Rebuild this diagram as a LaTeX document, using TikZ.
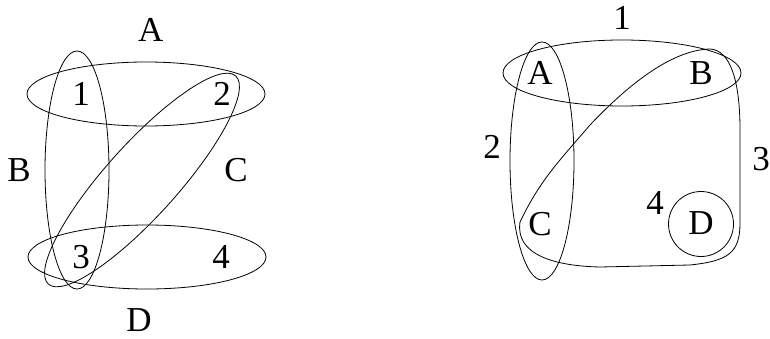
\documentclass[tikz,border=0pt]{standalone}
\usepackage{fontspec}
\setmainfont{Liberation Serif}

\begin{document}
\begin{tikzpicture}[x=1pt, y=1pt, line join=round, line cap=round,
  hyper/.style={line width=0.8pt},
  lbl/.style={inner sep=0pt, font=\fontsize{35}{42}\selectfont}]
  \useasboundingbox (0,0) rectangle (770,338);

  % 左图: 超边
  \coordinate (cA) at (146,244);
  \coordinate (cB) at (77,168);
  \coordinate (cC) at (142,158);
  \coordinate (cD) at (147,81);
  \draw[hyper] (cA) ellipse [x radius=119, y radius=32];
  \draw[hyper] (cB) ellipse [x radius=32, y radius=119];
  \draw[hyper, rotate around={48:(cC)}] (cC) ellipse [x radius=140, y radius=36];
  \draw[hyper] (cD) ellipse [x radius=119, y radius=32];

  % 左图: 顶点与超边名
  \node[lbl] (l1) at (81,244) {1};
  \node[lbl] (l2) at (222,244) {2};
  \node[lbl] (l3) at (81,81) {3};
  \node[lbl] (l4) at (221,81) {4};
  \node[lbl] (lA) at (150.7,308) {A};
  \node[lbl] (lB) at (19,168) {B};
  \node[lbl] (lC) at (236,167.5) {C};
  \node[lbl] (lD) at (139,17.5) {D};

  % 右图: 超边
  \coordinate (c1) at (622,265);
  \coordinate (c2) at (542,177);
  \coordinate (c4) at (701,114);
  \draw[hyper] (c1) ellipse [x radius=119, y radius=33];
  \draw[hyper] (c2) ellipse [x radius=32, y radius=119];
  \draw[hyper] (c4) circle (32.5);
  \draw[hyper] (520,116) .. controls (540,158) and (560,178) .. (590,213)
    .. controls (625,250) and (670,288) .. (710,289)
    .. controls (730,288) and (740,258) .. (740,208)
    -- (740,115) .. controls (740,85) and (728,77) .. (690,73)
    -- (600,71) .. controls (555,72) and (515,83) .. cycle;

  % 右图: 顶点与超边名
  \node[lbl] (rA) at (540,265) {A};
  \node[lbl] (rB) at (701,265) {B};
  \node[lbl] (rC) at (540,114) {C};
  \node[lbl] (rD) at (701,115) {D};
  \node[lbl] (r1) at (622,320.5) {1};
  \node[lbl] (r2) at (492,191) {2};
  \node[lbl] (r3) at (761,179) {3};
  \node[lbl] (r4) at (655,135) {4};
\end{tikzpicture}
\end{document}
